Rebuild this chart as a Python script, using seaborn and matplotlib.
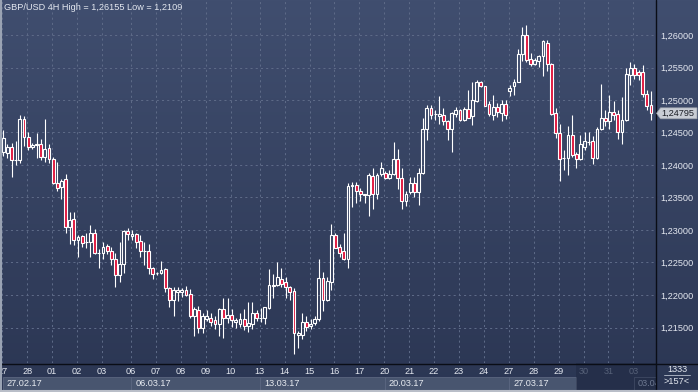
import numpy as np
import pandas as pd
import matplotlib
matplotlib.use('Agg')
import matplotlib.pyplot as plt
import seaborn as sns
from matplotlib.colors import LinearSegmentedColormap
from matplotlib.patches import Rectangle, Polygon
from matplotlib.lines import Line2D
from matplotlib.transforms import Bbox, TransformedBbox, IdentityTransform, blended_transform_factory

# GBP/USD 4H candles (157 bars visible)
opens = [1.2420, 1.2418, 1.2427, 1.2408, 1.2407, 1.2470, 1.2443, 1.2428, 1.2430, 1.2432,
         1.2413, 1.2426, 1.2409, 1.2373, 1.2366, 1.2378, 1.2304, 1.2317, 1.2284, 1.2290,
         1.2282, 1.2282, 1.2296, 1.2264, 1.2264, 1.2275, 1.2268, 1.2255, 1.2230, 1.2247,
         1.2298, 1.2290, 1.2294, 1.2283, 1.2267, 1.2268, 1.2242, 1.2234, 1.2234, 1.2240,
         1.2210, 1.2192, 1.2204, 1.2204, 1.2208, 1.2201, 1.2168, 1.2177, 1.2150, 1.2163,
         1.2164, 1.2161, 1.2155, 1.2178, 1.2164, 1.2169, 1.2158, 1.2156, 1.2163, 1.2153,
         1.2156, 1.2173, 1.2164, 1.2164, 1.2180, 1.2214, 1.2215, 1.2225, 1.2220, 1.2212,
         1.2206, 1.2139, 1.2139, 1.2158, 1.2153, 1.2157, 1.2163, 1.2226, 1.2193, 1.2220,
         1.2292, 1.2274, 1.2267, 1.2255, 1.2368, 1.2369, 1.2360, 1.2354, 1.2354, 1.2383,
         1.2356, 1.2386, 1.2387, 1.2380, 1.2386, 1.2409, 1.2380, 1.2345, 1.2358, 1.2373,
         1.2359, 1.2387, 1.2455, 1.2488, 1.2478, 1.2476, 1.2477, 1.2468, 1.2455, 1.2478,
         1.2485, 1.2469, 1.2486, 1.2475, 1.2499, 1.2527, 1.2522, 1.2494, 1.2477, 1.2489,
         1.2480, 1.2494, 1.2514, 1.2522, 1.2527, 1.2571, 1.2600, 1.2563, 1.2556, 1.2560,
         1.2567, 1.2587, 1.2556, 1.2480, 1.2449, 1.2410, 1.2410, 1.2446, 1.2417, 1.2409,
         1.2428, 1.2436, 1.2437, 1.2410, 1.2455, 1.2473, 1.2467, 1.2481, 1.2478, 1.2450,
         1.2469, 1.2538, 1.2550, 1.2543, 1.2543, 1.2509, 1.2492]
highs = [1.2454, 1.2432, 1.2434, 1.2437, 1.2477, 1.2475, 1.2450, 1.2434, 1.2449, 1.2440,
         1.2471, 1.2433, 1.2412, 1.2405, 1.2378, 1.2386, 1.2327, 1.2327, 1.2292, 1.2292,
         1.2295, 1.2307, 1.2301, 1.2270, 1.2282, 1.2278, 1.2274, 1.2264, 1.2281, 1.2300,
         1.2303, 1.2300, 1.2295, 1.2292, 1.2282, 1.2278, 1.2243, 1.2236, 1.2252, 1.2241,
         1.2213, 1.2212, 1.2212, 1.2210, 1.2214, 1.2209, 1.2182, 1.2183, 1.2172, 1.2177,
         1.2172, 1.2167, 1.2180, 1.2196, 1.2195, 1.2178, 1.2164, 1.2173, 1.2178, 1.2189,
         1.2189, 1.2177, 1.2180, 1.2182, 1.2240, 1.2232, 1.2251, 1.2241, 1.2227, 1.2214,
         1.2210, 1.2144, 1.2172, 1.2168, 1.2163, 1.2167, 1.2255, 1.2236, 1.2228, 1.2309,
         1.2296, 1.2278, 1.2296, 1.2373, 1.2374, 1.2374, 1.2364, 1.2355, 1.2387, 1.2396,
         1.2388, 1.2404, 1.2390, 1.2392, 1.2436, 1.2425, 1.2396, 1.2360, 1.2381, 1.2381,
         1.2396, 1.2473, 1.2493, 1.2493, 1.2485, 1.2506, 1.2487, 1.2469, 1.2482, 1.2489,
         1.2486, 1.2489, 1.2515, 1.2527, 1.2531, 1.2530, 1.2522, 1.2499, 1.2508, 1.2495,
         1.2500, 1.2500, 1.2523, 1.2533, 1.2578, 1.2613, 1.26155, 1.2573, 1.2565, 1.2570,
         1.2592, 1.2593, 1.2557, 1.2487, 1.2463, 1.2423, 1.2460, 1.2477, 1.2420, 1.2446,
         1.2451, 1.2451, 1.2444, 1.2458, 1.2525, 1.2484, 1.2508, 1.2499, 1.2484, 1.2504,
         1.2549, 1.2559, 1.2556, 1.2546, 1.2554, 1.2515, 1.2514]
lows = [1.2414, 1.2410, 1.2381, 1.2400, 1.2403, 1.2429, 1.2423, 1.2424, 1.2410, 1.2408,
        1.2404, 1.2403, 1.2371, 1.2360, 1.2348, 1.2295, 1.2278, 1.2277, 1.2259, 1.2274,
        1.2272, 1.2258, 1.2263, 1.2241, 1.2256, 1.2263, 1.2246, 1.2213, 1.2220, 1.2234,
        1.2285, 1.2285, 1.2272, 1.2258, 1.2246, 1.2233, 1.2224, 1.2231, 1.2233, 1.2205,
        1.2182, 1.2168, 1.2191, 1.2197, 1.2199, 1.2164, 1.2137, 1.2142, 1.2142, 1.2160,
        1.2152, 1.2147, 1.2137, 1.2134, 1.2157, 1.2151, 1.2150, 1.2151, 1.2146, 1.2143,
        1.2147, 1.2160, 1.2158, 1.2155, 1.2178, 1.2196, 1.2214, 1.2213, 1.2196, 1.2192,
        1.2109, 1.2119, 1.2132, 1.2145, 1.2148, 1.2154, 1.2160, 1.2176, 1.2190, 1.2208,
        1.2272, 1.2259, 1.2254, 1.2241, 1.2336, 1.2341, 1.2344, 1.2341, 1.2322, 1.2333,
        1.2347, 1.2383, 1.2378, 1.2378, 1.2385, 1.2363, 1.2333, 1.2337, 1.2355, 1.2351,
        1.2338, 1.2386, 1.2438, 1.2470, 1.2469, 1.2463, 1.2462, 1.2438, 1.2420, 1.2474,
        1.2467, 1.2468, 1.2472, 1.2462, 1.2497, 1.2520, 1.2490, 1.2475, 1.2469, 1.2474,
        1.2468, 1.2470, 1.2506, 1.2508, 1.2527, 1.2560, 1.2559, 1.2552, 1.2554, 1.2551,
        1.2537, 1.2545, 1.2477, 1.2441, 1.2376, 1.2392, 1.2385, 1.2413, 1.2395, 1.2408,
        1.2423, 1.2431, 1.2402, 1.2409, 1.2454, 1.2460, 1.2456, 1.2469, 1.2440, 1.2433,
        1.2468, 1.2523, 1.2533, 1.2531, 1.2504, 1.2484, 1.2469]
closes = [1.2442, 1.2427, 1.2407, 1.2407, 1.2470, 1.2443, 1.2427, 1.2431, 1.2432, 1.2413,
          1.2424, 1.2409, 1.2373, 1.2364, 1.2375, 1.2304, 1.2315, 1.2285, 1.2289, 1.2280,
          1.2281, 1.2295, 1.2264, 1.2264, 1.2274, 1.2267, 1.2255, 1.2231, 1.2247, 1.2298,
          1.2294, 1.2294, 1.2282, 1.2267, 1.2267, 1.2241, 1.2232, 1.2234, 1.2238, 1.2210,
          1.2192, 1.2208, 1.2208, 1.2208, 1.2200, 1.2168, 1.2178, 1.2150, 1.2168, 1.2168,
          1.2159, 1.2156, 1.2178, 1.2164, 1.2169, 1.2162, 1.2162, 1.2163, 1.2153, 1.2157,
          1.2172, 1.2164, 1.2164, 1.2181, 1.2216, 1.2216, 1.2227, 1.2217, 1.2213, 1.2205,
          1.2141, 1.2142, 1.2158, 1.2151, 1.2156, 1.2163, 1.2226, 1.2193, 1.2221, 1.2292,
          1.2273, 1.2265, 1.2255, 1.2368, 1.2369, 1.2360, 1.2355, 1.2355, 1.2385, 1.2356,
          1.2385, 1.2395, 1.2380, 1.2386, 1.2409, 1.2380, 1.2344, 1.2356, 1.2372, 1.2359,
          1.2387, 1.2455, 1.2487, 1.2477, 1.2478, 1.2478, 1.2467, 1.2455, 1.2480, 1.2485,
          1.2469, 1.2486, 1.2473, 1.2500, 1.2527, 1.2522, 1.2491, 1.2478, 1.2489, 1.2481,
          1.2494, 1.2477, 1.2519, 1.2528, 1.2571, 1.2600, 1.2562, 1.2556, 1.2562, 1.2567,
          1.2591, 1.2556, 1.2478, 1.2449, 1.2409, 1.2410, 1.2446, 1.2415, 1.2409, 1.2433,
          1.2437, 1.2436, 1.2410, 1.2456, 1.2473, 1.2467, 1.2481, 1.2477, 1.2450, 1.2469,
          1.2540, 1.2550, 1.2538, 1.2538, 1.2509, 1.2491, 1.24795]

# axis labels
day_start = [0, 6, 12, 18, 24, 31, 37, 43, 49, 55, 62, 68, 74, 80, 86,
             92, 98, 104, 110, 116, 122, 128, 134, 140, 146, 152]
day_labels = ['27', '28', '01', '02', '03', '06', '07', '08', '09', '10', '13', '14', '15',
              '16', '17', '20', '21', '22', '23', '24', '27', '28', '29', '30', '31', '03']
week_start = [0, 31, 62, 92, 122, 152]
week_labels = ['27.02.17', '06.03.17', '13.03.17', '20.03.17', '27.03.17', '03.04.17']
price_ticks = [1.215, 1.220, 1.225, 1.230, 1.235, 1.240, 1.245, 1.250, 1.255, 1.260]
last_price = 1.24795
title = 'GBP/USD 4H High = 1,26155 Low = 1,2109'

W, H = 698, 392
sns.set_theme(style='dark', rc={'axes.facecolor': 'none', 'figure.facecolor': '#323e5c'})
plt.rcParams['font.family'] = ['Liberation Sans', 'DejaVu Sans']

df = pd.DataFrame({'open': opens, 'high': highs, 'low': lows, 'close': closes})
df['idx'] = np.arange(len(df))
df['top'] = df[['open', 'close']].max(axis=1)
df['bot'] = df[['open', 'close']].min(axis=1)
up = df[df['close'] >= df['open']]
dn = df[df['close'] < df['open']]

fig = plt.figure(figsize=(W / 100, H / 100), dpi=100)

# background gradient
bg = fig.add_axes([0, 0, 1, 1], zorder=-5)
grad = np.linspace(0, 1, 256).reshape(-1, 1)
cmap = LinearSegmentedColormap.from_list('bgc', ['#404e6f', '#2b3653'])
bg.imshow(grad, aspect='auto', extent=[0, 1, 0, 1], cmap=cmap, origin='upper')
bg.axis('off')


def fx(px):
    return px / W


def fy(py):
    return 1 - py / H


plot_r, plot_b = 655.5, 363
ax = fig.add_axes([0, fy(plot_b), fx(plot_r), plot_b / H], zorder=1)
ax.patch.set_alpha(0)
x0, dx = 3.3, 4.152
ax.set_xlim(-x0 / dx, (plot_r - x0) / dx)
ax.set_ylim(1.25 - (plot_b - 100) / 6500, 1.25 + 100 / 6500)

# candles
ax.vlines(df['idx'], df['top'], df['high'], color='white', lw=0.8, zorder=3)
ax.vlines(df['idx'], df['low'], df['bot'], color='white', lw=0.8, zorder=3)
ax.bar(up['idx'], up['top'] - up['bot'], bottom=up['bot'], width=0.68,
       facecolor='none', edgecolor='white', linewidth=0.8, zorder=4)
ax.bar(dn['idx'], dn['top'] - dn['bot'], bottom=dn['bot'], width=0.68,
       facecolor='#e0163d', edgecolor='white', linewidth=0.8, zorder=4)

# grid and ticks
day_pos = np.array(day_start) - 0.25
ax.set_yticks(price_ticks)
ax.set_yticklabels([f'{p:.5f}'.replace('.', ',') for p in price_ticks])
ax.yaxis.tick_right()
ax.set_xticks(day_pos)
ax.set_xticklabels(day_labels)
ax.tick_params(axis='y', length=0, pad=3.2, labelsize=6.6, labelcolor='#e4e8f0')
ax.tick_params(axis='x', length=0, pad=3.0, labelsize=6.6, labelcolor='#e4e8f0')
for lab in ax.get_xticklabels()[-3:]:
    lab.set_color('#8590a6')
ax.grid(True, color='#5d6a87', linestyle=(0, (2, 3)), linewidth=0.75)
for s in ax.spines.values():
    s.set_visible(False)

# week boxes in bottom strip
trans = blended_transform_factory(ax.transData, fig.transFigure)
clip = TransformedBbox(Bbox.from_extents(0, 0, fx(plot_r), 1), fig.transFigure)
ends = week_start[1:] + [(plot_r - x0) / dx + 1]
for i, (ws, we, wl) in enumerate(zip(week_start, ends, week_labels)):
    a = ws - 0.15
    b = min(we - 0.15, 137.9) if i < 5 else we
    dim = i == 5
    box = Rectangle((a, fy(390)), b - a, fy(377) - fy(390), transform=trans,
                    facecolor='#2a3450' if dim else '#48556f',
                    edgecolor='#5b6680', lw=0.6, zorder=2)
    box.set_clip_box(clip)
    fig.add_artist(box)
    t = fig.text(a + 1.0, fy(383.5), wl, fontsize=6.6, va='center', ha='left',
                 color='#6d7890' if dim else '#e6eaf0', zorder=5, transform=trans)
    t.set_clip_box(clip)
    t.set_clip_on(True)

# dark overlay in the label strip on the right
fig.add_artist(Rectangle((137.9, fy(390)), 200, fy(363) - fy(390), transform=trans,
                         facecolor='#1e2740', alpha=0.45, edgecolor='none', zorder=3,
                         clip_box=clip))

# frame lines
fig.add_artist(Line2D([0, 1], [fy(363.5)] * 2, color='#0a0d16', lw=1.0, zorder=6))
fig.add_artist(Line2D([fx(plot_r)] * 2, [fy(390), 1], color='#0a0d16', lw=1.0, zorder=6))
fig.add_artist(Line2D([fx(1)] * 2, [0, 1], color='#9aa3b3', lw=1.5, zorder=7))
fig.add_artist(Line2D([0, 1], [fy(391)] * 2, color='#b9bec8', lw=1.5, zorder=7))

# title
fig.text(fx(4), fy(8), title, fontsize=6.6, color='#e4e8f0', va='center', ha='left', zorder=8)

# bottom right counters
fig.text(fx(677), fy(369), '1333', fontsize=6.6, color='#e4e8f0', ha='center', va='center')
fig.add_artist(Line2D([fx(664), fx(690)], [fy(374.5)] * 2, color='#b8bfcc', lw=0.6))
fig.text(fx(677), fy(382), '>157<', fontsize=6.6, color='#e4e8f0', ha='center', va='center')

# last price marker
fig.canvas.draw()
_, ly = ax.transData.transform((0, last_price))
xa = ax.transAxes.transform((1, 0))[0]
pts = [(xa + 1, ly), (xa + 5, ly + 5.5), (W - 1, ly + 5.5), (W - 1, ly - 5.5), (xa + 5, ly - 5.5)]
fig.add_artist(Polygon(pts, closed=True, transform=IdentityTransform(),
                       facecolor='#c9cdd5', edgecolor='#9aa0ab', lw=0.5, zorder=9))
fig.text(fx(xa + 5.5), ly / H, f'{last_price:.5f}'.replace('.', ','), fontsize=6.6,
         color='#1b1e26', va='center', ha='left', zorder=10)

fig.savefig('out.png', dpi=100)
